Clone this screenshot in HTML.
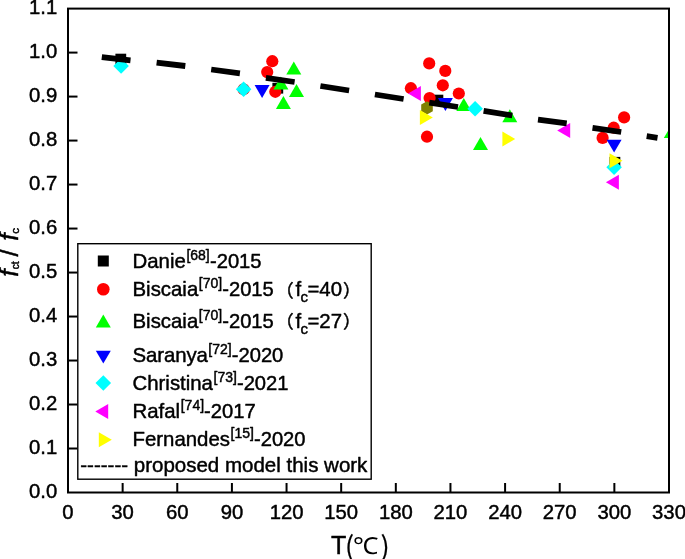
<!DOCTYPE html>
<html lang="en"><head><meta charset="utf-8"><title>f_ct / f_c vs T</title>
<style>html,body{margin:0;padding:0;background:#fff;}svg{display:block;}text{font-family:"Liberation Sans", Arial, Helvetica, sans-serif;fill:#000;}</style></head><body>
<svg width="685" height="559" viewBox="0 0 685 559" style="will-change:transform">
<rect x="0" y="0" width="685" height="559" fill="#fff"/>
<defs><clipPath id="plotclip"><rect x="68.0" y="8.6" width="601.0" height="483.9"/></clipPath></defs>
<g clip-path="url(#plotclip)">
<rect x="115.4" y="53.7" width="10.8" height="10.8" fill="#000"/>
<rect x="272.4" y="82.8" width="10.8" height="10.8" fill="#000"/>
<rect x="432.5" y="94.7" width="10.8" height="10.8" fill="#000"/>
<rect x="609.5" y="156.9" width="10.8" height="10.8" fill="#000"/>
<circle cx="243.6" cy="89.3" r="6.1" fill="#f00"/>
<circle cx="272.3" cy="61.2" r="6.1" fill="#f00"/>
<circle cx="267.2" cy="72.1" r="6.1" fill="#f00"/>
<circle cx="275.3" cy="91.8" r="6.1" fill="#f00"/>
<circle cx="429.2" cy="63.4" r="6.1" fill="#f00"/>
<circle cx="445.3" cy="70.9" r="6.1" fill="#f00"/>
<circle cx="442.8" cy="85.3" r="6.1" fill="#f00"/>
<circle cx="458.8" cy="93.5" r="6.1" fill="#f00"/>
<circle cx="410.9" cy="88.2" r="6.1" fill="#f00"/>
<circle cx="429.6" cy="98.0" r="6.1" fill="#f00"/>
<circle cx="427.0" cy="136.7" r="6.1" fill="#f00"/>
<circle cx="624.1" cy="117.4" r="6.1" fill="#f00"/>
<circle cx="613.7" cy="127.7" r="6.1" fill="#f00"/>
<circle cx="602.6" cy="137.9" r="6.1" fill="#f00"/>
<polygon points="293.8,61.6 286.3,74.5 301.3,74.5" fill="#0f0"/>
<polygon points="280.9,76.6 273.4,89.5 288.4,89.5" fill="#0f0"/>
<polygon points="296.5,84.0 289.0,97.0 304.0,97.0" fill="#0f0"/>
<polygon points="283.4,96.0 275.9,108.9 290.9,108.9" fill="#0f0"/>
<polygon points="463.8,98.1 456.3,111.0 471.3,111.0" fill="#0f0"/>
<polygon points="509.8,109.2 502.3,122.2 517.3,122.2" fill="#0f0"/>
<polygon points="480.5,137.1 473.0,149.9 488.0,149.9" fill="#0f0"/>
<polygon points="671.3,125.2 663.8,138.1 678.8,138.1" fill="#0f0"/>
<polygon points="262.1,98.0 254.6,85.0 269.6,85.0" fill="#00f"/>
<polygon points="445.4,111.0 437.9,98.1 452.9,98.1" fill="#00f"/>
<polygon points="614.1,152.6 606.6,139.8 621.6,139.8" fill="#00f"/>
<polygon points="121.1,58.2 128.9,66.0 121.1,73.8 113.3,66.0" fill="#0ff"/>
<polygon points="243.6,81.5 251.4,89.3 243.6,97.1 235.8,89.3" fill="#0ff"/>
<polygon points="475.1,100.9 482.9,108.7 475.1,116.5 467.3,108.7" fill="#0ff"/>
<polygon points="614.1,159.5 621.9,167.3 614.1,175.1 606.3,167.3" fill="#0ff"/>
<polygon points="408.1,93.6 420.9,86.1 420.9,101.1" fill="#f0f"/>
<polygon points="557.2,130.4 570.2,122.9 570.2,137.9" fill="#f0f"/>
<polygon points="605.9,182.2 618.9,174.7 618.9,189.7" fill="#f0f"/>
<polygon points="427.0,101.2 421.2,104.6 421.2,111.2 427.0,114.6 432.8,111.3 432.8,104.6" fill="#808000"/>
<polygon points="432.8,117.4 419.9,109.9 419.9,124.9" fill="#ff0"/>
<polygon points="515.2,139.0 502.4,131.5 502.4,146.5" fill="#ff0"/>
<polygon points="622.5,160.8 609.5,153.3 609.5,168.3" fill="#ff0"/>
</g>
<line x1="101.8" y1="57.1" x2="130.5" y2="60.3" stroke="#000" stroke-width="5.8"/>
<line x1="156.6" y1="62.6" x2="185.3" y2="66.0" stroke="#000" stroke-width="5.8"/>
<line x1="211.2" y1="69.5" x2="239.9" y2="73.4" stroke="#000" stroke-width="5.8"/>
<line x1="265.9" y1="77.8" x2="294.6" y2="82.0" stroke="#000" stroke-width="5.8"/>
<line x1="320.4" y1="86.0" x2="349.1" y2="90.5" stroke="#000" stroke-width="5.8"/>
<line x1="374.9" y1="94.5" x2="403.6" y2="99.0" stroke="#000" stroke-width="5.8"/>
<line x1="429.3" y1="102.6" x2="458.0" y2="107.0" stroke="#000" stroke-width="5.8"/>
<line x1="483.6" y1="110.9" x2="512.3" y2="115.5" stroke="#000" stroke-width="5.8"/>
<line x1="538.0" y1="119.6" x2="566.7" y2="123.4" stroke="#000" stroke-width="5.8"/>
<line x1="592.5" y1="127.9" x2="621.2" y2="132.0" stroke="#000" stroke-width="5.8"/>
<line x1="646.7" y1="136.1" x2="657.5" y2="137.8" stroke="#000" stroke-width="5.8"/>
<rect x="68.0" y="8.6" width="601.0" height="483.9" fill="none" stroke="#000" stroke-width="2"/>
<text x="57.3" y="498.20" font-size="20.3" text-anchor="end" stroke="#000" stroke-width="0.45" stroke-linejoin="round">0.0</text>
<line x1="68.0" y1="448.51" x2="77.5" y2="448.51" stroke="#000" stroke-width="2"/>
<text x="57.3" y="454.21" font-size="20.3" text-anchor="end" stroke="#000" stroke-width="0.45" stroke-linejoin="round">0.1</text>
<line x1="68.0" y1="404.52" x2="77.5" y2="404.52" stroke="#000" stroke-width="2"/>
<text x="57.3" y="410.22" font-size="20.3" text-anchor="end" stroke="#000" stroke-width="0.45" stroke-linejoin="round">0.2</text>
<line x1="68.0" y1="360.53" x2="77.5" y2="360.53" stroke="#000" stroke-width="2"/>
<text x="57.3" y="366.23" font-size="20.3" text-anchor="end" stroke="#000" stroke-width="0.45" stroke-linejoin="round">0.3</text>
<line x1="68.0" y1="316.54" x2="77.5" y2="316.54" stroke="#000" stroke-width="2"/>
<text x="57.3" y="322.24" font-size="20.3" text-anchor="end" stroke="#000" stroke-width="0.45" stroke-linejoin="round">0.4</text>
<line x1="68.0" y1="272.55" x2="77.5" y2="272.55" stroke="#000" stroke-width="2"/>
<text x="57.3" y="278.25" font-size="20.3" text-anchor="end" stroke="#000" stroke-width="0.45" stroke-linejoin="round">0.5</text>
<line x1="68.0" y1="228.55" x2="77.5" y2="228.55" stroke="#000" stroke-width="2"/>
<text x="57.3" y="234.25" font-size="20.3" text-anchor="end" stroke="#000" stroke-width="0.45" stroke-linejoin="round">0.6</text>
<line x1="68.0" y1="184.56" x2="77.5" y2="184.56" stroke="#000" stroke-width="2"/>
<text x="57.3" y="190.26" font-size="20.3" text-anchor="end" stroke="#000" stroke-width="0.45" stroke-linejoin="round">0.7</text>
<line x1="68.0" y1="140.57" x2="77.5" y2="140.57" stroke="#000" stroke-width="2"/>
<text x="57.3" y="146.27" font-size="20.3" text-anchor="end" stroke="#000" stroke-width="0.45" stroke-linejoin="round">0.8</text>
<line x1="68.0" y1="96.58" x2="77.5" y2="96.58" stroke="#000" stroke-width="2"/>
<text x="57.3" y="102.28" font-size="20.3" text-anchor="end" stroke="#000" stroke-width="0.45" stroke-linejoin="round">0.9</text>
<line x1="68.0" y1="52.59" x2="77.5" y2="52.59" stroke="#000" stroke-width="2"/>
<text x="57.3" y="58.29" font-size="20.3" text-anchor="end" stroke="#000" stroke-width="0.45" stroke-linejoin="round">1.0</text>
<text x="57.3" y="14.30" font-size="20.3" text-anchor="end" stroke="#000" stroke-width="0.45" stroke-linejoin="round">1.1</text>
<text x="68.00" y="518.9" font-size="20.3" text-anchor="middle" stroke="#000" stroke-width="0.45" stroke-linejoin="round">0</text>
<line x1="122.64" y1="492.5" x2="122.64" y2="483.0" stroke="#000" stroke-width="2"/>
<text x="122.64" y="518.9" font-size="20.3" text-anchor="middle" stroke="#000" stroke-width="0.45" stroke-linejoin="round">30</text>
<line x1="177.27" y1="492.5" x2="177.27" y2="483.0" stroke="#000" stroke-width="2"/>
<text x="177.27" y="518.9" font-size="20.3" text-anchor="middle" stroke="#000" stroke-width="0.45" stroke-linejoin="round">60</text>
<line x1="231.91" y1="492.5" x2="231.91" y2="483.0" stroke="#000" stroke-width="2"/>
<text x="231.91" y="518.9" font-size="20.3" text-anchor="middle" stroke="#000" stroke-width="0.45" stroke-linejoin="round">90</text>
<line x1="286.55" y1="492.5" x2="286.55" y2="483.0" stroke="#000" stroke-width="2"/>
<text x="286.55" y="518.9" font-size="20.3" text-anchor="middle" stroke="#000" stroke-width="0.45" stroke-linejoin="round">120</text>
<line x1="341.18" y1="492.5" x2="341.18" y2="483.0" stroke="#000" stroke-width="2"/>
<text x="341.18" y="518.9" font-size="20.3" text-anchor="middle" stroke="#000" stroke-width="0.45" stroke-linejoin="round">150</text>
<line x1="395.82" y1="492.5" x2="395.82" y2="483.0" stroke="#000" stroke-width="2"/>
<text x="395.82" y="518.9" font-size="20.3" text-anchor="middle" stroke="#000" stroke-width="0.45" stroke-linejoin="round">180</text>
<line x1="450.45" y1="492.5" x2="450.45" y2="483.0" stroke="#000" stroke-width="2"/>
<text x="450.45" y="518.9" font-size="20.3" text-anchor="middle" stroke="#000" stroke-width="0.45" stroke-linejoin="round">210</text>
<line x1="505.09" y1="492.5" x2="505.09" y2="483.0" stroke="#000" stroke-width="2"/>
<text x="505.09" y="518.9" font-size="20.3" text-anchor="middle" stroke="#000" stroke-width="0.45" stroke-linejoin="round">240</text>
<line x1="559.73" y1="492.5" x2="559.73" y2="483.0" stroke="#000" stroke-width="2"/>
<text x="559.73" y="518.9" font-size="20.3" text-anchor="middle" stroke="#000" stroke-width="0.45" stroke-linejoin="round">270</text>
<line x1="614.36" y1="492.5" x2="614.36" y2="483.0" stroke="#000" stroke-width="2"/>
<text x="614.36" y="518.9" font-size="20.3" text-anchor="middle" stroke="#000" stroke-width="0.45" stroke-linejoin="round">300</text>
<text x="669.00" y="518.9" font-size="20.3" text-anchor="middle" stroke="#000" stroke-width="0.45" stroke-linejoin="round">330</text>
<text x="331.0" y="553.8" font-size="25.1" stroke="#000" stroke-width="0.45" stroke-linejoin="round">T</text>
<text font-family='"Liberation Sans","Noto Sans CJK SC",sans-serif' stroke="#000" stroke-width="0.2"><tspan x="345.0" y="555.7" font-family='"Noto Sans CJK SC","Liberation Sans",sans-serif' font-size="27">(</tspan><tspan x="380.5" y="555.7" font-family='"Noto Sans CJK SC","Liberation Sans",sans-serif' font-size="27">)</tspan></text>
<text transform="translate(353.4,554.0) scale(1,0.915)" x="0" y="0" font-size="25.5" font-family='"Noto Sans CJK SC","Liberation Sans",sans-serif'>℃</text>
<text transform="translate(17.75,275.5) rotate(-90)" font-size="26" stroke="#000" stroke-width="0.45" stroke-linejoin="round"><tspan x="-1.2" y="0" font-style="italic">f</tspan><tspan x="6.2" y="1.0" font-size="10.2">ct</tspan><tspan x="19.0" y="0">/</tspan><tspan x="34.7" y="0" font-style="italic">f</tspan><tspan x="41.7" y="1.0" font-size="11.5">c</tspan></text>
<rect x="77.8" y="243.7" width="293.4" height="235.5" fill="#fff" stroke="#000" stroke-width="1.4"/>
<rect x="97.8" y="255.5" width="11.0" height="11.0" fill="#000"/>
<text x="132.5" y="268.1" font-size="20.4" stroke="#000" stroke-width="0.45" stroke-linejoin="round"><tspan letter-spacing="0">Danie</tspan><tspan font-size="14" dx="0.6" dy="-8.3">[68]</tspan><tspan dy="8.3" dx="0.2" font-size="20.2">-2015</tspan></text>
<circle cx="103.3" cy="289.3" r="6.3" fill="#f00"/>
<text x="132.5" y="296.2" font-size="20.4" stroke="#000" stroke-width="0.45" stroke-linejoin="round"><tspan letter-spacing="0">Biscaia</tspan><tspan font-size="14" dx="0.6" dy="-8.3">[70]</tspan><tspan dy="8.3" dx="0.0" font-size="20.2">-2015</tspan><tspan x="276.0" dy="0.3" font-size="17.7" font-family='"Noto Sans CJK SC","Liberation Sans",sans-serif'>（</tspan><tspan x="295.4" dy="-0.3" font-size="20.4">f</tspan><tspan x="300.4" dy="5.8" font-size="15">c</tspan><tspan x="307.4" dy="-5.8">=40</tspan><tspan x="342.9" dy="0.3" font-size="17.7" font-family='"Noto Sans CJK SC","Liberation Sans",sans-serif'>）</tspan></text>
<polygon points="103.3,314.6 95.8,327.4 110.8,327.4" fill="#0f0"/>
<text x="132.5" y="328.0" font-size="20.4" stroke="#000" stroke-width="0.45" stroke-linejoin="round"><tspan letter-spacing="0">Biscaia</tspan><tspan font-size="14" dx="0.6" dy="-8.3">[70]</tspan><tspan dy="8.3" dx="0.0" font-size="20.2">-2015</tspan><tspan x="276.0" dy="0.3" font-size="17.7" font-family='"Noto Sans CJK SC","Liberation Sans",sans-serif'>（</tspan><tspan x="295.4" dy="-0.3" font-size="20.4">f</tspan><tspan x="300.4" dy="5.8" font-size="15">c</tspan><tspan x="307.4" dy="-5.8">=27</tspan><tspan x="342.9" dy="0.3" font-size="17.7" font-family='"Noto Sans CJK SC","Liberation Sans",sans-serif'>）</tspan></text>
<polygon points="103.3,363.6 95.8,350.8 110.8,350.8" fill="#00f"/>
<text x="132.5" y="361.9" font-size="20.4" stroke="#000" stroke-width="0.45" stroke-linejoin="round"><tspan letter-spacing="-0.1">Saranya</tspan><tspan font-size="14" dx="0.6" dy="-8.3">[72]</tspan><tspan dy="8.3" dx="0.0" font-size="20.2">-2020</tspan></text>
<polygon points="103.3,375.2 111.1,383.0 103.3,390.8 95.5,383.0" fill="#0ff"/>
<text x="132.5" y="390.2" font-size="20.4" stroke="#000" stroke-width="0.45" stroke-linejoin="round"><tspan letter-spacing="0">Christina</tspan><tspan font-size="14" dx="0.6" dy="-8.3">[73]</tspan><tspan dy="8.3" dx="0.0" font-size="20.2">-2021</tspan></text>
<polygon points="95.3,411.5 108.2,404.0 108.2,419.0" fill="#f0f"/>
<text x="132.5" y="417.8" font-size="20.4" stroke="#000" stroke-width="0.45" stroke-linejoin="round"><tspan letter-spacing="0">Rafal</tspan><tspan font-size="14" dx="0.6" dy="-8.3">[74]</tspan><tspan dy="8.3" dx="0.0" font-size="20.2">-2017</tspan></text>
<polygon points="111.8,439.7 98.8,432.2 98.8,447.2" fill="#ff0"/>
<text x="132.5" y="445.9" font-size="20.4" stroke="#000" stroke-width="0.45" stroke-linejoin="round"><tspan letter-spacing="0">Fernandes</tspan><tspan font-size="14" dx="0.6" dy="-8.3">[15]</tspan><tspan dy="8.3" dx="0.0" font-size="20.2">-2020</tspan></text>
<text x="80.3" y="472.2" font-size="20.5" stroke="#000" stroke-width="0.45" stroke-linejoin="round">------- proposed model this work</text>
</svg></body></html>
